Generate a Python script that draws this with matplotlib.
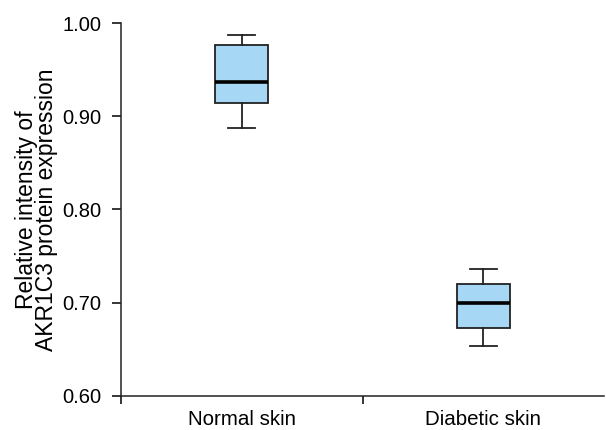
import matplotlib
matplotlib.use("Agg")
import matplotlib.pyplot as plt

categories = ["Normal skin", "Diabetic skin"]
whisker_low = [0.887, 0.653]
q1 = [0.914, 0.673]
median = [0.937, 0.6995]
q3 = [0.976, 0.720]
whisker_high = [0.9875, 0.736]
yticks = [0.60, 0.70, 0.80, 0.90, 1.00]

plt.rcParams['font.family'] = ['Liberation Sans', 'DejaVu Sans']

fig = plt.figure(figsize=(6.06, 4.30), dpi=100)
ax = fig.add_axes([0.1997, 0.0798, 0.797, 0.8667])

stats = []
for i, c in enumerate(categories):
    stats.append(dict(label=c, whislo=whisker_low[i], q1=q1[i], med=median[i],
                      q3=q3[i], whishi=whisker_high[i], fliers=[]))

positions = [0.5 + i for i in range(len(categories))]
ax.bxp(stats, positions=positions, widths=0.22, patch_artist=True, showfliers=False,
       boxprops=dict(facecolor='#A6D8F5', edgecolor='#222222', linewidth=1.3),
       medianprops=dict(color='black', linewidth=2.6),
       whiskerprops=dict(color='#222222', linewidth=1.3),
       capprops=dict(color='#222222', linewidth=1.3),
       capwidths=0.11, manage_ticks=False)

ax.set_xlim(0, 2)
ax.set_ylim(0.60, 1.00)
ax.set_yticks(yticks)
ax.set_yticklabels([f"{v:.2f}" for v in yticks], fontsize=14.5)
ax.set_xticks([0, 1])
ax.set_xticklabels([])
ax.set_xticks(positions, minor=True)
ax.set_xticklabels(categories, minor=True, fontsize=14.8)
ax.tick_params(axis='x', which='minor', length=0, pad=10.5)
ax.tick_params(axis='x', which='major', direction='out', length=6, width=1.1)
ax.tick_params(axis='y', direction='out', length=6.5, width=1.1, pad=7.5)

for s in ['top', 'right']:
    ax.spines[s].set_visible(False)
for s in ['left', 'bottom']:
    ax.spines[s].set_linewidth(1.1)
    ax.spines[s].set_color('#222222')

ax.set_ylabel("Relative intensity of\nAKR1C3 protein expression", fontsize=16.5, labelpad=3,
              linespacing=0.85)

fig.savefig("out.png", dpi=100)
